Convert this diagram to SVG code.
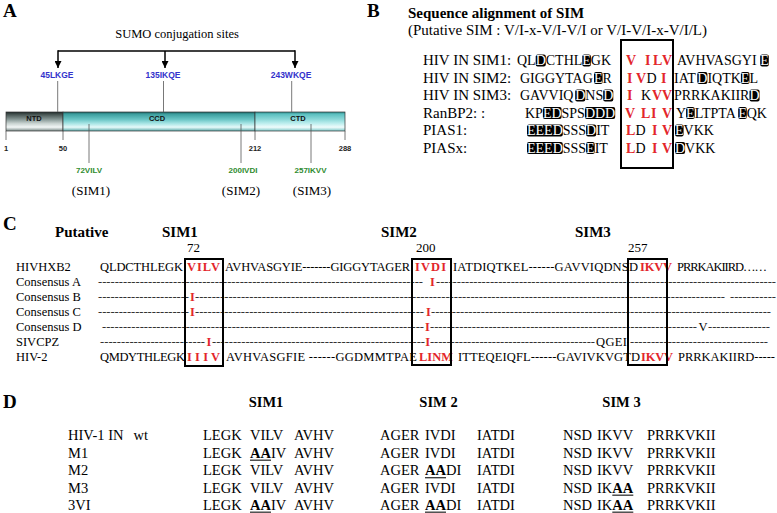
<svg xmlns="http://www.w3.org/2000/svg" width="777" height="513" viewBox="0 0 777 513">
<defs>
<linearGradient id="gNTD" x1="0" y1="0" x2="0" y2="1">
<stop offset="0" stop-color="#1f2a2a"/><stop offset="0.12" stop-color="#44514f"/><stop offset="0.4" stop-color="#8a9a98"/><stop offset="0.6" stop-color="#c8d2d0"/><stop offset="0.8" stop-color="#f2f6f6"/><stop offset="1" stop-color="#7a8a88"/>
</linearGradient>
<linearGradient id="gCCD" x1="0" y1="0" x2="0" y2="1">
<stop offset="0" stop-color="#1e6464"/><stop offset="0.12" stop-color="#3d9f9f"/><stop offset="0.4" stop-color="#6cc6c6"/><stop offset="0.6" stop-color="#a6e4e4"/><stop offset="0.8" stop-color="#e6fafa"/><stop offset="1" stop-color="#5aa9a9"/>
</linearGradient>
<linearGradient id="gCTD" x1="0" y1="0" x2="0" y2="1">
<stop offset="0" stop-color="#2e8c8c"/><stop offset="0.12" stop-color="#5cc0c0"/><stop offset="0.4" stop-color="#8fdada"/><stop offset="0.6" stop-color="#bdeeee"/><stop offset="0.8" stop-color="#effcfc"/><stop offset="1" stop-color="#7cc8c8"/>
</linearGradient>
<marker id="arr" viewBox="0 0 8 8" refX="8" refY="4" markerWidth="7" markerHeight="7" markerUnits="userSpaceOnUse" orient="auto">
<path d="M0,0 L8,4 L0,8 z" fill="#000"/>
</marker>
</defs>
<style>
.serif{font-family:"Liberation Serif","Times New Roman",serif}
.sans{font-family:"Liberation Sans",Arial,sans-serif;font-weight:bold}
.pl{font-size:19px;font-weight:bold}
.hd{font-size:15px;font-weight:bold}
.blue{fill:#3333cc;font-size:8.5px}
.green{fill:#2e8b2e;font-size:8px}
.pos{font-size:7.5px;fill:#222}
.dom{font-size:7.5px;fill:#111}
.b{font-size:15px}
.seq{font-size:14px}
.red{fill:#e3262b;font-weight:bold}
.k{fill:#000;font-weight:normal}
.hl{fill:#fff}
.hlb{fill:#000}
.c{font-size:12.5px}
.cd{font-size:12.5px;fill:#333}
.d{font-size:14.5px}
.bd{font-weight:bold}
.box{fill:none;stroke:#000;stroke-width:2}
.thin{stroke:#555;stroke-width:0.8;fill:none}
.conn{stroke:#000;stroke-width:1.5;fill:none}
.ul{stroke:#333;stroke-width:1.3}
</style>
<rect width="777" height="513" fill="#fff"/>

<!-- Panel letters -->
<g id="panel-letters" class="serif pl">
<text x="3" y="17">A</text>
<text x="367" y="17">B</text>
<text x="3" y="230">C</text>
<text x="3" y="408">D</text>
</g>

<!-- Panel A -->
<g id="sumo-title"><text class="serif" font-size="12.5" x="177" y="37.5" text-anchor="middle">SUMO conjugation sites</text></g>

<g id="domain-bar">
<rect x="6" y="112" width="57" height="19" fill="url(#gNTD)" stroke="#333" stroke-width="0.7"/>
<rect x="63" y="112" width="192" height="19" fill="url(#gCCD)" stroke="#333" stroke-width="0.7"/>
<rect x="255" y="112" width="90" height="19" fill="url(#gCTD)" stroke="#333" stroke-width="0.7"/>
<g class="sans dom" text-anchor="middle">
<text x="34" y="121">NTD</text>
<text x="157" y="121">CCD</text>
<text x="298" y="121">CTD</text>
</g>
<g class="sans pos" text-anchor="middle">
<text x="6" y="151">1</text>
<text x="63" y="151">50</text>
<text x="255" y="151">212</text>
<text x="345" y="151">288</text>
</g>
</g>

<g id="connectors">
<path class="conn" d="M58,51 H295"/>
<line class="conn" x1="58" y1="50.3" x2="58" y2="68" marker-end="url(#arr)"/>
<line class="conn" x1="165" y1="51" x2="165" y2="68" marker-end="url(#arr)"/>
<line class="conn" x1="295" y1="50.3" x2="295" y2="68" marker-end="url(#arr)"/>
<line class="thin" x1="57.7" y1="81" x2="57.7" y2="112"/>
<line class="thin" x1="163.5" y1="81" x2="163.5" y2="112"/>
<line class="thin" x1="291.7" y1="81" x2="291.7" y2="112"/>
<line class="thin" x1="89" y1="124" x2="89" y2="163"/>
<line class="thin" x1="241" y1="124" x2="241" y2="163"/>
<line class="thin" x1="311" y1="124" x2="311" y2="163"/>
<line class="thin" x1="6" y1="131" x2="6" y2="140"/>
<line class="thin" x1="63" y1="131" x2="63" y2="140"/>
<line class="thin" x1="255" y1="131" x2="255" y2="140"/>
<line class="thin" x1="345" y1="131" x2="345" y2="140"/>
</g>

<g id="sumo-sites" class="sans blue" text-anchor="middle">
<text x="57" y="78">45LKGE</text>
<text x="163" y="78">135IKQE</text>
<text x="291" y="78">243WKQE</text>
</g>

<g id="sim-sites">
<g class="sans green" text-anchor="middle">
<text x="89" y="173">72VILV</text>
<text x="243" y="173">200IVDI</text>
<text x="310.5" y="173">257IKVV</text>
</g>
<g class="serif" font-size="13" text-anchor="middle">
<text x="91" y="194.5">(SIM1)</text>
<text x="241" y="194.5">(SIM2)</text>
<text x="312" y="194.5">(SIM3)</text>
</g>
</g>

<!-- Panel B -->
<g id="panel-b-title" class="serif">
<text x="408" y="18" font-size="15" font-weight="bold">Sequence alignment of SIM</text>
<text x="408" y="35" font-size="15">(Putative SIM : V/I-x-V/I-V/I or V/I-V/I-x-V/I/L)</text>
</g>

<g id="panel-b-rows" class="serif">
<g class="b">
<text x="423" y="65">HIV IN SIM1:</text>
<text x="423" y="82.5">HIV IN SIM2:</text>
<text x="423" y="100">HIV IN SIM3:</text>
<text x="423" y="117.5">RanBP2: :</text>
<text x="423" y="135">PIAS1:</text>
<text x="423" y="152.5">PIASx:</text>
</g>
<g class="hlb">
<rect x="535.7" y="54.5" width="10.1" height="12" rx="2"/>
<rect x="582.3" y="54.5" width="8.6" height="12" rx="2"/>
<rect x="760.2" y="54.5" width="8.6" height="12" rx="2"/>
<rect x="594" y="72" width="8.6" height="12" rx="2"/>
<rect x="697.3" y="72" width="10.1" height="12" rx="2"/>
<rect x="740.9" y="72" width="8.6" height="12" rx="2"/>
<rect x="575.2" y="89.5" width="10.1" height="12" rx="2"/>
<rect x="603.2" y="89.5" width="10.1" height="12" rx="2"/>
<rect x="749.5" y="89.5" width="10.1" height="12" rx="2"/>
<rect x="542.9" y="107" width="18.7" height="12" rx="2"/>
<rect x="584.9" y="107" width="30.3" height="12" rx="2"/>
<rect x="686.1" y="107" width="8.6" height="12" rx="2"/>
<rect x="738.2" y="107" width="8.6" height="12" rx="2"/>
<rect x="527" y="124.5" width="35.8" height="12" rx="2"/>
<rect x="586.1" y="124.5" width="10.1" height="12" rx="2"/>
<rect x="675" y="124.5" width="8.6" height="12" rx="2"/>
<rect x="527" y="142" width="35.8" height="12" rx="2"/>
<rect x="586.1" y="142" width="8.6" height="12" rx="2"/>
<rect x="675" y="142" width="10.1" height="12" rx="2"/>
</g>
<g class="seq">
<text y="65"><tspan x="517">QL</tspan><tspan x="535.66" class="hl">D</tspan><tspan x="545.77">CTHL</tspan><tspan x="582.32" class="hl">E</tspan><tspan x="590.87">GK</tspan></text>
<text y="65" class="red"><tspan x="626">V</tspan><tspan x="645">I</tspan><tspan x="653">L</tspan><tspan x="662">V</tspan></text>
<text y="65"><tspan x="677">AVHVASGYI</tspan><tspan x="760.21" class="hl">E</tspan></text>

<text y="82.5"><tspan x="520">GIGGYTAG</tspan><tspan x="593.97" class="hl">E</tspan><tspan x="602.52">R</tspan></text>
<text y="82.5" class="red"><tspan x="627">I</tspan><tspan x="636">V</tspan><tspan x="646.5" class="k">D</tspan><tspan x="661">I</tspan></text>
<text y="82.5"><tspan x="674">IAT</tspan><tspan x="697.32" class="hl">D</tspan><tspan x="707.43">IQTK</tspan><tspan x="740.86" class="hl">E</tspan><tspan x="749.41">L</tspan></text>

<text y="100"><tspan x="520">GAVVIQ</tspan><tspan x="575.21" class="hl">D</tspan><tspan x="585.32">NS</tspan><tspan x="603.21" class="hl">D</tspan></text>
<text y="100" class="red"><tspan x="627">I</tspan><tspan x="641" class="k">K</tspan><tspan x="652">V</tspan><tspan x="662">V</tspan></text>
<text y="100"><tspan x="674">PRRKAKIIR</tspan><tspan x="749.45" class="hl">D</tspan></text>

<text y="117.5"><tspan x="525">KP</tspan><tspan x="542.89" class="hl">ED</tspan><tspan x="561.55">SPS</tspan><tspan x="584.89" class="hl">DDD</tspan></text>
<text y="117.5" class="red"><tspan x="625">V</tspan><tspan x="641">L</tspan><tspan x="651">I</tspan><tspan x="662">V</tspan></text>
<text y="117.5"><tspan x="676">Y</tspan><tspan x="686.11" class="hl">E</tspan><tspan x="694.66">LTPTA</tspan><tspan x="738.2" class="hl">E</tspan><tspan x="746.75">QK</tspan></text>

<text y="135"><tspan x="527" class="hl">EEED</tspan><tspan x="562.76">SSS</tspan><tspan x="586.1" class="hl">D</tspan><tspan x="596.21">IT</tspan></text>
<text y="135" class="red"><tspan x="626">L</tspan><tspan x="635.5" class="k">D</tspan><tspan x="652">I</tspan><tspan x="662">V</tspan></text>
<text y="135"><tspan x="675" class="hl">E</tspan><tspan x="683.55">VKK</tspan></text>

<text y="152.5"><tspan x="527" class="hl">EEED</tspan><tspan x="562.76">SSS</tspan><tspan x="586.1" class="hl">E</tspan><tspan x="594.65">IT</tspan></text>
<text y="152.5" class="red"><tspan x="626">L</tspan><tspan x="635.5" class="k">D</tspan><tspan x="652">I</tspan><tspan x="662">V</tspan></text>
<text y="152.5"><tspan x="675" class="hl">D</tspan><tspan x="685.11">VKK</tspan></text>
</g>
<rect class="box" x="621" y="40" width="52" height="128"/>
</g>

<!-- Panel C -->
<g id="panel-c-headers" class="serif">
<g class="hd">
<text x="55" y="237">Putative</text>
<text x="162" y="237">SIM1</text>
<text x="381" y="237">SIM2</text>
<text x="575" y="237">SIM3</text>
</g>
<g font-size="13">
<text x="187" y="252">72</text>
<text x="416" y="252">200</text>
<text x="628" y="252">257</text>
</g>
</g>

<g id="panel-c-rows" class="serif c">
<text x="16" y="271">HIVHXB2</text>
<text x="16" y="286">Consensus A</text>
<text x="16" y="301">Consensus B</text>
<text x="16" y="316">Consensus C</text>
<text x="16" y="331">Consensus D</text>
<text x="16" y="346">SIVCPZ</text>
<text x="16" y="361">HIV-2</text>

<text x="100" y="271" textLength="83">QLDCTHLEGK</text>
<text class="red" x="187" y="271" textLength="33">VILV</text>
<text x="225" y="271" textLength="185">AVHVASGYIE-------GIGGYTAGER</text>
<text class="red" x="415" y="271" textLength="31">IVDI</text>
<text x="453" y="271" textLength="185">IATDIQTKEL------GAVVIQDNSD</text>
<text class="red" x="640" y="271" textLength="32">IKVV</text>
<text x="677" y="271" textLength="90">PRRKAKIIRD……</text>

<g class="cd">
<text x="98" y="286" textLength="325">------------------------------------------------------------------------------</text>
<text x="436" y="286" textLength="340">----------------------------------------------------------------------------------</text>

<text x="98" y="301" textLength="91">----------------------</text>
<text x="195" y="301" textLength="530">-------------------------------------------------------------------------------------------------------------------------------</text>
<text x="730" y="301" textLength="46">-----------</text>

<text x="98" y="316" textLength="91">----------------------</text>
<text x="195" y="316" textLength="229">-------------------------------------------------------</text>
<text x="431" y="316" textLength="340">----------------------------------------------------------------------------------</text>

<text x="102" y="331" textLength="322">-----------------------------------------------------------------------------</text>
<text x="430" y="331" textLength="267">----------------------------------------------------------------</text>
<text x="708" y="331" textLength="62">---------------</text>

<text x="100" y="346" textLength="105">-------------------------</text>
<text x="212" y="346" textLength="213">---------------------------------------------------</text>
<text x="430" y="346" textLength="165">----------------------------------------</text>
<text x="630" y="346" textLength="138">---------------------------------</text>
</g>
<text class="red" x="430" y="286">I</text>
<text class="red" x="190" y="301">I</text>
<text class="red" x="190" y="316">I</text>
<text class="red" x="426" y="316">I</text>
<text class="red" x="425" y="331">I</text>
<text x="698.5" y="331">V</text>
<text class="red" x="206.6" y="346">I</text>
<text class="red" x="425.3" y="346">I</text>
<text x="596" y="346" textLength="31">QGEI</text>

<text x="100" y="361" textLength="85">QMDYTHLEGK</text>
<text class="red" x="187" y="361" textLength="33">I I I V</text>
<text x="226" y="361" textLength="191">AVHVASGFIE ------GGDMMTPAE</text>
<text class="red" x="419" y="361" textLength="34">LINM</text>
<text x="458" y="361" textLength="182">ITTEQEIQFL------GAVIVKVGTD</text>
<text class="red" x="641" y="361" textLength="32">IKVV</text>
<text x="678" y="361" textLength="97">PRRKAKIIRD-----</text>

<rect class="box" x="185" y="259" width="38" height="107"/>
<rect class="box" x="412" y="259" width="39" height="106"/>
<rect class="box" x="628" y="259" width="39" height="106"/>
</g>

<!-- Panel D -->
<g id="panel-d-headers" class="serif" font-size="14.5" font-weight="bold">
<text x="266" y="407" text-anchor="middle">SIM1</text>
<text x="438.5" y="407" text-anchor="middle">SIM 2</text>
<text x="621.5" y="407" text-anchor="middle">SIM 3</text>
</g>

<g id="panel-d-rows" class="serif d">
<text y="440"><tspan x="68">HIV-1 IN</tspan><tspan x="133.5">wt</tspan></text>
<text x="68" y="457.5">M1</text>
<text x="68" y="475">M2</text>
<text x="68" y="492.5">M3</text>
<text x="68" y="510">3VI</text>

<text y="440"><tspan x="203">LEGK</tspan><tspan x="250">VILV</tspan><tspan x="294">AVHV</tspan><tspan x="380">AGER</tspan><tspan x="425">IVDI</tspan><tspan x="477">IATDI</tspan><tspan x="563">NSD</tspan><tspan x="597">IKVV</tspan><tspan x="647">PRRKVKII</tspan></text>
<text y="457.5"><tspan x="203">LEGK</tspan><tspan x="250" class="bd">AA</tspan><tspan x="270.94">IV</tspan><tspan x="294">AVHV</tspan><tspan x="380">AGER</tspan><tspan x="425">IVDI</tspan><tspan x="477">IATDI</tspan><tspan x="563">NSD</tspan><tspan x="597">IKVV</tspan><tspan x="647">PRRKVKII</tspan></text>
<text y="475"><tspan x="203">LEGK</tspan><tspan x="250">VILV</tspan><tspan x="294">AVHV</tspan><tspan x="380">AGER</tspan><tspan x="425" class="bd">AA</tspan><tspan x="445.94">DI</tspan><tspan x="477">IATDI</tspan><tspan x="563">NSD</tspan><tspan x="597">IKVV</tspan><tspan x="647">PRRKVKII</tspan></text>
<text y="492.5"><tspan x="203">LEGK</tspan><tspan x="250">VILV</tspan><tspan x="294">AVHV</tspan><tspan x="380">AGER</tspan><tspan x="425">IVDI</tspan><tspan x="477">IATDI</tspan><tspan x="563">NSD</tspan><tspan x="597">IK</tspan><tspan x="612.3" class="bd">AA</tspan><tspan x="647">PRRKVKII</tspan></text>
<text y="510"><tspan x="203">LEGK</tspan><tspan x="250" class="bd">AA</tspan><tspan x="270.94">IV</tspan><tspan x="294">AVHV</tspan><tspan x="380">AGER</tspan><tspan x="425" class="bd">AA</tspan><tspan x="445.94">DI</tspan><tspan x="477">IATDI</tspan><tspan x="563">NSD</tspan><tspan x="597">IK</tspan><tspan x="612.3" class="bd">AA</tspan><tspan x="647">PRRKVKII</tspan></text>

<g class="ul">
<line x1="250" y1="460.2" x2="271" y2="460.2"/>
<line x1="425" y1="477.7" x2="446" y2="477.7"/>
<line x1="612.3" y1="495.2" x2="633.3" y2="495.2"/>
<line x1="250" y1="512.2" x2="271" y2="512.2"/>
<line x1="425" y1="512.2" x2="446" y2="512.2"/>
<line x1="612.3" y1="512.2" x2="633.3" y2="512.2"/>
</g>
</g>
</svg>
